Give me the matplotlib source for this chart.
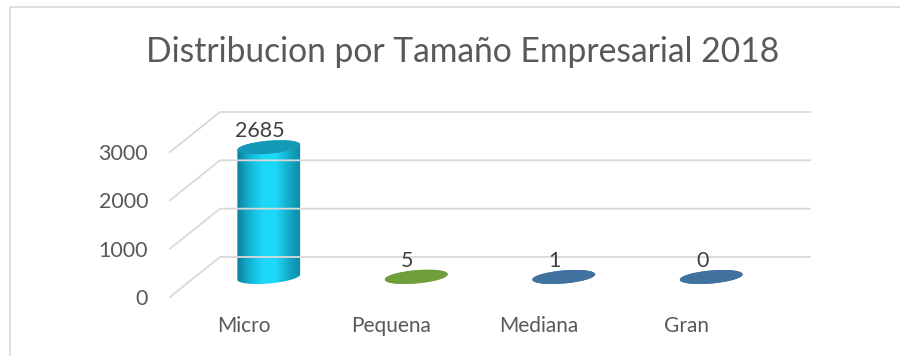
import numpy as np
import matplotlib.pyplot as plt
from matplotlib.patches import Polygon, Ellipse
from matplotlib.lines import Line2D
from matplotlib.colors import LinearSegmentedColormap
from matplotlib.transforms import IdentityTransform

title = "Distribucion por Tamaño Empresarial 2018"
categories = ["Micro", "Pequena", "Mediana", "Gran"]
values = [2685, 5, 1, 0]
y_ticks = [0, 1000, 2000, 3000]

# cylinder colours: flat top + horizontal shading for the side
top_colors = ["#1499b7", "#6f9f3b", "#41729f", "#41729f"]
side_colors = [
    ["#0a7690", "#12b0d0", "#1cd6f6", "#1ddaf9", "#13acca", "#0c87a2"],
    ["#5a8730", "#72a43d", "#80b549", "#72a43d", "#5a8730"],
    ["#305b83", "#3f709d", "#4a7fae", "#3f709d", "#305b83"],
    ["#305b83", "#3f709d", "#4a7fae", "#3f709d", "#305b83"],
]

plt.rcParams['font.family'] = ['Lato', 'DejaVu Sans']
text_color = '#595959'
grid_color = '#d9d9d9'

fig = plt.figure(figsize=(9, 3.56), dpi=100)
ax = fig.add_axes([195 / 900, 79 / 356, 590 / 900, 145 / 356])
ax.set_xlim(-0.5, len(categories) - 0.5)
ax.set_ylim(0, 3000)
ax.set_autoscale_on(False)
ax.axis('off')

# half of the floor depth, in pixels (x right, y up)
dx, dy = 25, 20
px = IdentityTransform()

# chart border (only left and top edges are inside the picture)
fig.add_artist(Line2D([10 / 900, 10 / 900, 1.0], [0.0, 1 - 7 / 356, 1 - 7 / 356],
                      color=grid_color, lw=1.2))

fig.text(0.514, 1 - 62 / 356, title, ha='center', va='baseline',
         fontsize=24.2, color=text_color)

# gridlines on the back wall + side wall, tick labels on the front edge
for v in y_ticks:
    x0, y0 = ax.transData.transform((-0.5, v))
    x1, _ = ax.transData.transform((len(categories) - 0.5, v))
    ax.add_line(Line2D([x0 - dx, x0 + dx, x1 + dx], [y0 - dy, y0 + dy, y0 + dy],
                       color=grid_color, lw=1.3, transform=px, clip_on=False))
    ax.text(x0 - dx - 22, y0 - dy, f"{v}", ha='right', va='center_baseline',
            fontsize=15.5, color=text_color, transform=px)

# category labels under the front edge
for i, name in enumerate(categories):
    cx, cy = ax.transData.transform((i, 0))
    ax.text(cx - dx, cy - dy - 35, name, ha='center', va='baseline',
            fontsize=15, color=text_color, transform=px)


def ellipse_pts(cx, cy, a, b, ang, t):
    c, s = np.cos(ang), np.sin(ang)
    return np.column_stack([cx + a * np.cos(t) * c - b * np.sin(t) * s,
                            cy + a * np.cos(t) * s + b * np.sin(t) * c])


a, b, tilt = 31.5, 6.5, np.deg2rad(5)
for i, v in enumerate(values):
    cx, cy0 = ax.transData.transform((i, 0))
    _, cy1 = ax.transData.transform((i, v))

    # side of the cylinder: lower arc of the base, upper arc of the top
    outline = np.vstack([
        ellipse_pts(cx, cy0, a, b, tilt, np.linspace(np.pi, 2 * np.pi, 60)),
        ellipse_pts(cx, cy1, a, b, tilt, np.linspace(0, np.pi, 60)),
    ])
    clip = Polygon(outline, closed=True, transform=px, fc='none', ec='none')
    ax.add_patch(clip)
    cmap = LinearSegmentedColormap.from_list(f"side{i}", side_colors[i])
    im = ax.imshow(np.linspace(0, 1, 256)[None, :], cmap=cmap, aspect='auto',
                   extent=(cx - a - 2, cx + a + 2, cy0 - b - 6, cy1 + b + 6),
                   transform=px, interpolation='bilinear')
    im.set_clip_path(clip)
    im.set_clip_box(fig.bbox)

    ax.add_patch(Ellipse((cx, cy1), 2 * a, 2 * b, angle=np.rad2deg(tilt),
                         fc=top_colors[i], ec='none', transform=px, clip_on=False))

    ax.text(cx - 9, cy1 + 18, f"{v}", ha='center', va='center_baseline',
            fontsize=15.5, color='#404040', transform=px)

fig.savefig("out.png", dpi=100)
